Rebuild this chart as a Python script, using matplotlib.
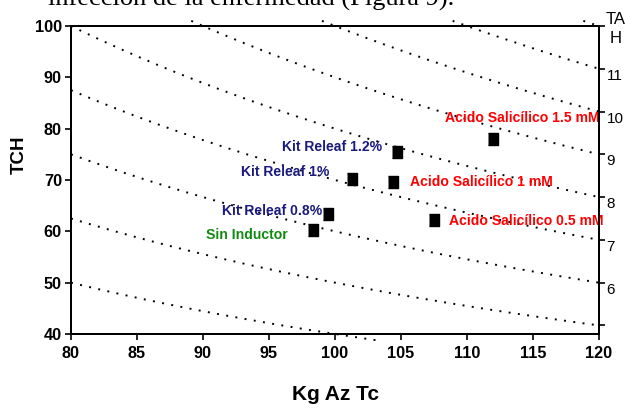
import matplotlib
matplotlib.use('Agg')
import matplotlib.pyplot as plt
import numpy as np
from matplotlib import font_manager

# valores
tratamientos = ['Sin Inductor', 'Kit Releaf 0.8%', 'Kit Releaf 1%', 'Kit Releaf 1.2%',
                'Acido Salicílico 0.5 mM', 'Acido Salicílico 1 mM', 'Acido Salicílico 1.5 mM']
kg_az_tc = [98.3, 99.5, 101.3, 104.7, 107.5, 104.4, 112.0]
tch = [60.3, 63.3, 70.2, 75.4, 62.2, 69.7, 78.0]
colores = ['#108a10', '#1a1a80', '#1a1a80', '#1a1a80', '#ff0000', '#ff0000', '#ff0000']
# posicion de cada etiqueta (x, y, alineacion)
etiquetas_xy = [(96.4, 59.2, 'right'), (99.0, 63.9, 'right'), (99.6, 71.6, 'right'),
                (103.6, 76.5, 'right'), (108.6, 62.1, 'left'), (105.7, 69.6, 'left'),
                (108.3, 82.0, 'left')]

tah_niveles = [4, 5, 6, 7, 8, 9, 10, 11, 12]
tah_ticks = [5, 6, 7, 8, 9, 10, 11, 12]
tah_labels = ['', '6', '7', '8', '9', '10', '11', '']

x_ticks = [80, 85, 90, 95, 100, 105, 110, 115, 120]
y_ticks = [40, 50, 60, 70, 80, 90, 100]

names = {f.name for f in font_manager.fontManager.ttflist}
if 'Liberation Sans Narrow' in names:
    NARROW, K = 'Liberation Sans Narrow', 1.0
else:
    NARROW, K = 'Liberation Sans', 0.82
plt.rcParams['font.family'] = [NARROW, 'DejaVu Sans']

fig = plt.figure(figsize=(6.25, 4.08), dpi=100)
ax = fig.add_axes([71 / 625, 1 - 334 / 408, 528 / 625, 308 / 408])

# lineas de igual TAH
for t in tah_niveles:
    x0 = max(80, 1000 * t / 101)
    x1 = min(120, 1000 * t / 38.8)
    if x0 >= x1:
        continue
    xs = np.linspace(x0, x1, 200)
    ax.plot(xs, 1000 * t / xs, color='black', lw=1.4,
            linestyle=(0, (1, 3.8)), clip_on=False, zorder=1)

for xv, yv in zip(kg_az_tc, tch):
    ax.plot(xv, yv, marker=[(-0.8, -1), (0.8, -1), (0.8, 1), (-0.8, 1)],
            ms=8.5, color='black', linestyle='none', zorder=3)

for nombre, col, (tx, ty, ha) in zip(tratamientos, colores, etiquetas_xy):
    ax.text(tx, ty, nombre, color=col, fontsize=12.3 * K, fontweight='bold',
            ha=ha, va='center', zorder=4)

ax.set_xlim(80, 120)
ax.set_ylim(40, 100)
ax.set_xticks(x_ticks)
ax.set_yticks(y_ticks)
ax.tick_params(direction='out', length=4, width=1.2, pad=5, labelsize=14.3 * K)
for lab in ax.get_xticklabels() + ax.get_yticklabels():
    lab.set_fontweight('bold')
ax.tick_params(axis='y', pad=2.5)
for s in ax.spines.values():
    s.set_linewidth(1.4)

ax2 = ax.twinx()
ax2.set_ylim(40, 100)
ax2.set_yticks([1000 * t / 120 for t in tah_ticks])
ax2.set_yticklabels(tah_labels, family='Liberation Sans', fontsize=11)
ax2.tick_params(direction='out', length=4, width=1.2, pad=1.5)
for lab in ax2.get_yticklabels():
    lab.set_va('top')
for s in ax2.spines.values():
    s.set_linewidth(1.4)

fig.text(335 / 625, 1 - 395 / 408, 'Kg Az Tc', fontsize=18.3 * K, fontweight='bold',
         ha='center', va='center')
fig.text(19 / 625, 1 - 155 / 408, 'TCH', fontsize=16.5 * K, fontweight='bold',
         rotation=90, ha='center', va='center')
fig.text(616 / 625, 1 - 12 / 408, 'TA\nH', family='Liberation Sans', fontsize=12,
         ha='center', va='top', multialignment='center', linespacing=1.35)
fig.text(48 / 625, 1 - 6 / 408, 'infección de la enfermedad (Figura 9).',
         family='Liberation Serif', fontsize=19, ha='left', va='baseline')

fig.savefig('out.png', dpi=100)
